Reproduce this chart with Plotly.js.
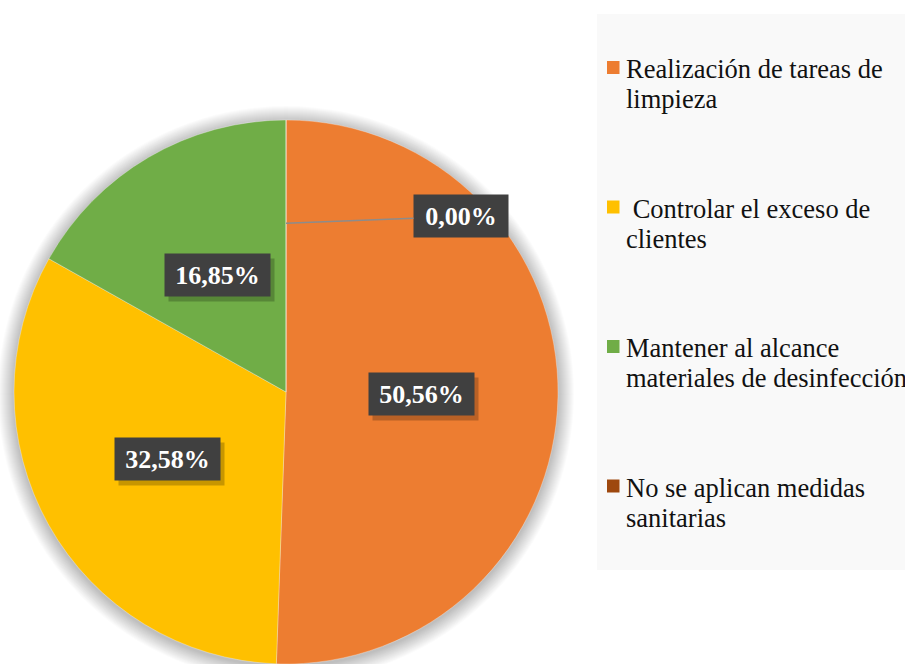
<!DOCTYPE html>
<html>
<head>
<meta charset="utf-8">
<script src="https://cdn.plot.ly/plotly-3.0.1.min.js"></script>
<style>html,body{margin:0;padding:0;background:#fff;}#chart{width:905px;height:664px;}</style>
</head>
<body>
<div id="chart"></div>
<script>
// ---- data ----
const categories = [
  'Realización de tareas de limpieza',
  ' Controlar el exceso de clientes',
  'Mantener al alcance materiales de desinfección',
  'No se aplican medidas sanitarias'
];
const legendLines = [
  ['Realización de tareas de', 'limpieza'],
  [' Controlar el exceso de', 'clientes'],
  ['Mantener al alcance', 'materiales de desinfección'],
  ['No se aplican medidas', 'sanitarias']
];
const values = [50.56, 32.58, 16.85, 0.00];
const colors = ['#ED7D31', '#FFC000', '#70AD47', '#9E480E'];

// ---- geometry (layout) ----
const W = 905, H = 664;
const CX = 286, CY = 392, R = 272;
const SERIF = 'Liberation Serif';
const px2x = p => p / W;
const px2y = p => (H - p) / H;

const fmt = v => v.toFixed(2).replace('.', ',') + '%';

const trace = {
  type: 'pie',
  labels: categories,
  values: values,
  sort: false,
  direction: 'clockwise',
  rotation: 0,
  textinfo: 'none',
  hoverinfo: 'label+percent',
  marker: {colors: colors, line: {color: 'rgba(255,255,255,0.5)', width: 0.6}},
  domain: {x: [px2x(CX - R), px2x(CX + R)], y: [px2y(CY + R), px2y(CY - R)]},
  showlegend: false
};

// label annotations computed from the data angles
const total = values.reduce((a, b) => a + b, 0);
const annotations = [];
let cum = 0;
values.forEach((v, i) => {
  const start = cum / total * 2 * Math.PI;
  cum += v;
  const end = cum / total * 2 * Math.PI;
  const mid = (start + end) / 2;
  const common = {
    xref: 'paper', yref: 'paper', text: '<b>' + fmt(v) + '</b>',
    xanchor: 'center', yanchor: 'middle',
    font: {family: SERIF, size: 26, color: '#ffffff'},
    bgcolor: '#404040', height: 40, align: 'center', valign: 'middle'
  };
  if (v > 0) {
    const rr = 0.5 * R;
    const x = CX + rr * Math.sin(mid), y = CY - rr * Math.cos(mid);
    annotations.push(Object.assign({}, common, {x: px2x(x + 4), y: px2y(y + 5), bgcolor: 'rgba(0,0,0,0.22)', text: '', showarrow: false, width: 103}));
    annotations.push(Object.assign({}, common, {x: px2x(x), y: px2y(y), showarrow: false, width: 103}));
  } else {
    const rr = 0.62 * R;
    const x = CX + rr * Math.sin(mid), y = CY - rr * Math.cos(mid);
    annotations.push(Object.assign({}, common, {x: px2x(x), y: px2y(y), showarrow: true, arrowhead: 0, width: 92,
      arrowcolor: '#8c8c8c', arrowwidth: 1.5, ax: 175, ay: -7, axref: 'pixel', ayref: 'pixel'}));
  }
});

// soft shadow rings around the pie + legend panel
const shapes = [];
for (let k = 16; k >= 1; k--) {
  shapes.push({type: 'circle', xref: 'paper', yref: 'paper', layer: 'below',
    x0: px2x(CX - R - k), x1: px2x(CX + R + k), y0: px2y(CY + R + k + 2), y1: px2y(CY - R - k + 2),
    fillcolor: 'rgba(0,0,0,0.016)', line: {width: 0}});
}
shapes.push({type: 'rect', xref: 'paper', yref: 'paper', layer: 'below',
  x0: px2x(597), x1: 1, y0: px2y(570), y1: px2y(14), fillcolor: '#f9f9f9', line: {width: 0}});

// manual legend (one entry per category, in data order)
const LEG_X = 607, LEG_BASE = 77, LEG_STEP = 139.5, LINE_H = 30;
legendLines.forEach((lines, i) => {
  const base = LEG_BASE + LEG_STEP * i;
  shapes.push({type: 'rect', xref: 'paper', yref: 'paper',
    x0: px2x(LEG_X), x1: px2x(LEG_X + 12.5), y0: px2y(base - 3), y1: px2y(base - 16),
    fillcolor: colors[i], line: {width: 0}});
  lines.forEach((t, j) => {
    annotations.push({xref: 'paper', yref: 'paper', x: px2x(LEG_X + 18), y: px2y(base + LINE_H * j - 8),
      xanchor: 'left', yanchor: 'middle', showarrow: false, text: t.replace(/^ /, '&nbsp;'),
      font: {family: SERIF, size: 26.5, color: '#111111'}, borderpad: 0});
  });
});

const layout = {
  width: W, height: H,
  margin: {l: 0, r: 0, t: 0, b: 0},
  paper_bgcolor: '#ffffff',
  font: {family: SERIF},
  showlegend: false,
  annotations: annotations,
  shapes: shapes
};

Plotly.newPlot('chart', [trace], layout, {displayModeBar: false, staticPlot: true});
</script>
</body>
</html>
